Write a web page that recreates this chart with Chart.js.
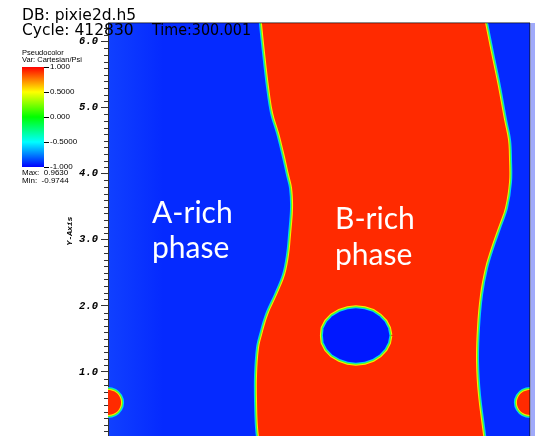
<!DOCTYPE html>
<html>
<head>
<meta charset="utf-8">
<script src="https://cdn.jsdelivr.net/npm/chart.js@4.4.1/dist/chart.umd.min.js"></script>
<style>
  html, body { margin: 0; padding: 0; background: #fff; overflow: hidden; width: 535px; height: 436px; }
  #wrap { position: absolute; left: 0; top: 0; width: 535px; height: 440px; }
</style>
</head>
<body>
<div id="wrap"><canvas id="c" width="535" height="440"></canvas></div>
<script>
// Periodic domain [0, 2pi] x [0, 2pi]
const DOMAIN = 6.2832;

// Left phase interface (top to bottom)
const leftX = [2.28, 2.293, 2.338, 2.397, 2.457, 2.546, 2.621, 2.695, 2.740, 2.755, 2.725, 2.695, 2.636, 2.516, 2.382, 2.293, 2.248, 2.219, 2.219, 2.234, 2.27];
const leftY = [6.45, 6.27, 5.833, 5.318, 4.924, 4.621, 4.318, 3.985, 3.788, 3.485, 3.076, 2.773, 2.470, 2.167, 1.864, 1.561, 1.364, 0.955, 0.545, 0.152, -0.15];

// Right phase interface (top to bottom)
const rightX = [5.59, 5.614, 5.703, 5.807, 5.897, 5.956, 5.971, 5.971, 5.911, 5.807, 5.703, 5.614, 5.539, 5.494, 5.480, 5.509, 5.584, 5.60];
const rightY = [6.45, 6.288, 5.833, 5.318, 4.818, 4.515, 4.212, 3.879, 3.485, 3.182, 2.879, 2.576, 2.167, 1.667, 1.152, 0.652, 0.045, -0.15];

// A-rich droplet trapped inside the B-rich band
const holeX = [4.19, 4.17, 4.12, 4.04, 3.94, 3.82, 3.69, 3.57, 3.45, 3.34, 3.26, 3.21, 3.20, 3.21, 3.26, 3.34, 3.45, 3.57, 3.69, 3.82, 3.94, 4.04, 4.12, 4.17, 4.19];
const holeY = [1.553, 1.660, 1.759, 1.844, 1.910, 1.951, 1.965, 1.951, 1.910, 1.844, 1.759, 1.660, 1.553, 1.446, 1.347, 1.262, 1.196, 1.155, 1.141, 1.155, 1.196, 1.262, 1.347, 1.446, 1.553];

// B-rich droplet straddling the periodic x boundary (left copy, right copy)
const edgeDropLeftX  = [-0.195, -0.169, -0.098, 0, 0.098, 0.169, 0.195, 0.169, 0.098, 0, -0.098, -0.169, -0.195];
const edgeDropRightX = [6.478, 6.452, 6.381, 6.283, 6.185, 6.114, 6.088, 6.114, 6.185, 6.283, 6.381, 6.452, 6.478];
const edgeDropY      = [0.538, 0.443, 0.373, 0.348, 0.373, 0.443, 0.538, 0.633, 0.703, 0.728, 0.703, 0.633, 0.538];

// Colour legend
const legendValues = [1, 0.5, 0, -0.5, -1];
const legendLabels = ['1.000', '0.5000', '0.000', '-0.5000', '-1.000'];
const fieldMax = '0.9630';
const fieldMin = '-0.9744';

const RED = 'rgb(255,42,0)';
const BLUE = 'rgb(5,42,255)';
const DEEP_BLUE = 'rgb(0,24,255)';
const YELLOW = 'rgb(255,232,0)';
const GREEN = 'rgb(70,255,40)';
const CYAN = 'rgb(0,205,255)';

const pts = (xs, ys) => xs.map((x, i) => ({ x, y: ys[i] }));

const bandPts = pts(leftX, leftY).reverse().concat(pts(rightX, rightY));
bandPts.push(bandPts[0]);

// A filled outline with thin colour rings underneath it (the diffuse interface)
function layered(points, fillColor, rings, order, tension) {
  const out = [];
  rings.forEach((r, i) => out.push({
    type: 'line', data: points, borderColor: r[0], borderWidth: r[1],
    fill: false, pointRadius: 0, tension, clip: 0, order: order + rings.length - i
  }));
  out.push({
    type: 'line', data: points, backgroundColor: fillColor, borderColor: 'transparent',
    borderWidth: 0, fill: 'shape', pointRadius: 0, tension, clip: 0, order
  });
  return out;
}

const outwardRings = [[CYAN, 6], [GREEN, 4], [YELLOW, 2]];
const inwardRings = [[YELLOW, 6], [GREEN, 4], [CYAN, 2]];

const datasets = [
  ...layered(bandPts, RED, outwardRings, 100, 0.35),
  ...layered(pts(holeX, holeY), DEEP_BLUE, inwardRings, 80, 0),
  ...layered(pts(edgeDropLeftX, edgeDropY), RED, outwardRings, 60, 0.35),
  ...layered(pts(edgeDropRightX, edgeDropY), RED, outwardRings, 40, 0.35)
];

const fieldBackground = {
  id: 'fieldBackground',
  beforeDraw(chart) {
    const { ctx, chartArea: a } = chart;
    const g = ctx.createLinearGradient(a.left, 0, a.left + 55, 0);
    g.addColorStop(0, 'rgb(16,64,255)');
    g.addColorStop(1, BLUE);
    ctx.save();
    ctx.fillStyle = g;
    ctx.fillRect(a.left, a.top, a.right - a.left, a.bottom - a.top);
    ctx.restore();
  }
};

const annotations = {
  id: 'annotations',
  afterDraw(chart) {
    const { ctx, chartArea: a } = chart;
    const ys = chart.scales.y;
    ctx.save();

    // frame edges
    ctx.fillStyle = 'rgba(0,0,0,0.45)';
    ctx.fillRect(a.left, a.top - 1, a.right - a.left, 1.5);
    ctx.fillStyle = '#111';
    ctx.fillRect(a.right - 0.5, a.top, 1, a.bottom - a.top);
    ctx.fillStyle = 'rgb(160,170,250)';
    ctx.fillRect(a.right + 0.5, a.top, 5, a.bottom - a.top);

    // minor ticks on the y axis
    ctx.strokeStyle = '#333';
    ctx.lineWidth = 1;
    for (let k = 1; k < 63; k++) {
      if (k % 10 === 0) continue;
      const py = Math.round(ys.getPixelForValue(k / 10)) + 0.5;
      ctx.beginPath();
      ctx.moveTo(a.left - 4, py);
      ctx.lineTo(a.left, py);
      ctx.stroke();
    }

    // axis title
    ctx.save();
    ctx.translate(70, 231);
    ctx.rotate(-Math.PI / 2);
    ctx.fillStyle = '#000';
    ctx.font = 'italic bold 8px "Liberation Mono"';
    ctx.textAlign = 'center';
    ctx.textBaseline = 'middle';
    ctx.fillText('Y-Axis', 0, 0);
    ctx.restore();

    // phase labels
    ctx.fillStyle = '#fff';
    ctx.font = '30px Lato';
    ctx.textAlign = 'left';
    ctx.textBaseline = 'alphabetic';
    ctx.fillText('A-rich', 152, 223);
    ctx.fillText('phase', 152, 258);
    ctx.fillText('B-rich', 335, 228.5);
    ctx.fillText('phase', 335, 265);

    // header
    ctx.fillStyle = '#000';
    ctx.font = '15.5px "DejaVu Sans"';
    ctx.fillText('DB: pixie2d.h5', 22, 19.5);
    ctx.fillText('Cycle: 412830', 22, 35);
    ctx.fillText('Time:300.001', 152, 35, 99);

    // colour legend
    ctx.font = '7.5px "Liberation Sans"';
    ctx.fillText('Pseudocolor', 22, 55);
    ctx.fillText('Var: Cartesian/Psi', 22, 61.5);
    const bx = 22, bw = 22, top = 67, bottom = 167;
    const g = ctx.createLinearGradient(0, top, 0, bottom);
    g.addColorStop(0, 'rgb(255,0,0)');
    g.addColorStop(0.25, 'rgb(255,255,0)');
    g.addColorStop(0.5, 'rgb(0,255,0)');
    g.addColorStop(0.75, 'rgb(0,255,255)');
    g.addColorStop(1, 'rgb(0,0,255)');
    ctx.fillStyle = g;
    ctx.fillRect(bx, top, bw, bottom - top);
    ctx.strokeStyle = '#000';
    ctx.fillStyle = '#000';
    ctx.font = '8px "Liberation Sans"';
    ctx.textBaseline = 'middle';
    legendValues.forEach((v, i) => {
      const py = top + (1 - v) / 2 * (bottom - top);
      ctx.beginPath();
      ctx.moveTo(bx + bw, Math.round(py) + 0.5);
      ctx.lineTo(bx + bw + 5, Math.round(py) + 0.5);
      ctx.stroke();
      ctx.fillText(legendLabels[i], bx + bw + 6, py);
    });
    ctx.fillText('Max:  ' + fieldMax, 22, 173);
    ctx.fillText('Min:  ' + fieldMin, 22, 180.5);

    ctx.restore();
  }
};

new Chart(document.getElementById('c'), {
  type: 'scatter',
  data: { datasets },
  options: {
    responsive: false,
    animation: false,
    events: [],
    layout: { padding: { left: 58, top: 23, right: 5, bottom: 2 } },
    elements: { line: { capBezierPoints: false } },
    plugins: { legend: { display: false }, tooltip: { enabled: false } },
    scales: {
      x: { type: 'linear', min: 0, max: DOMAIN, display: false },
      y: {
        type: 'linear', min: 0, max: DOMAIN, position: 'left',
        afterFit(s) { s.width = 50; s.paddingTop = 0; s.paddingBottom = 0; },
        ticks: {
          stepSize: 1, includeBounds: false, autoSkip: false, padding: 3, color: '#000',
          font: { family: 'Liberation Mono', size: 10.5, weight: 'bold', style: 'italic' },
          callback: v => (v === 0 ? null : v.toFixed(1))
        },
        grid: { drawOnChartArea: false, drawTicks: true, tickLength: 7, tickColor: '#333', tickWidth: 1 },
        border: { display: true, color: '#333', width: 1 }
      }
    }
  },
  plugins: [fieldBackground, annotations]
});
</script>
</body>
</html>
